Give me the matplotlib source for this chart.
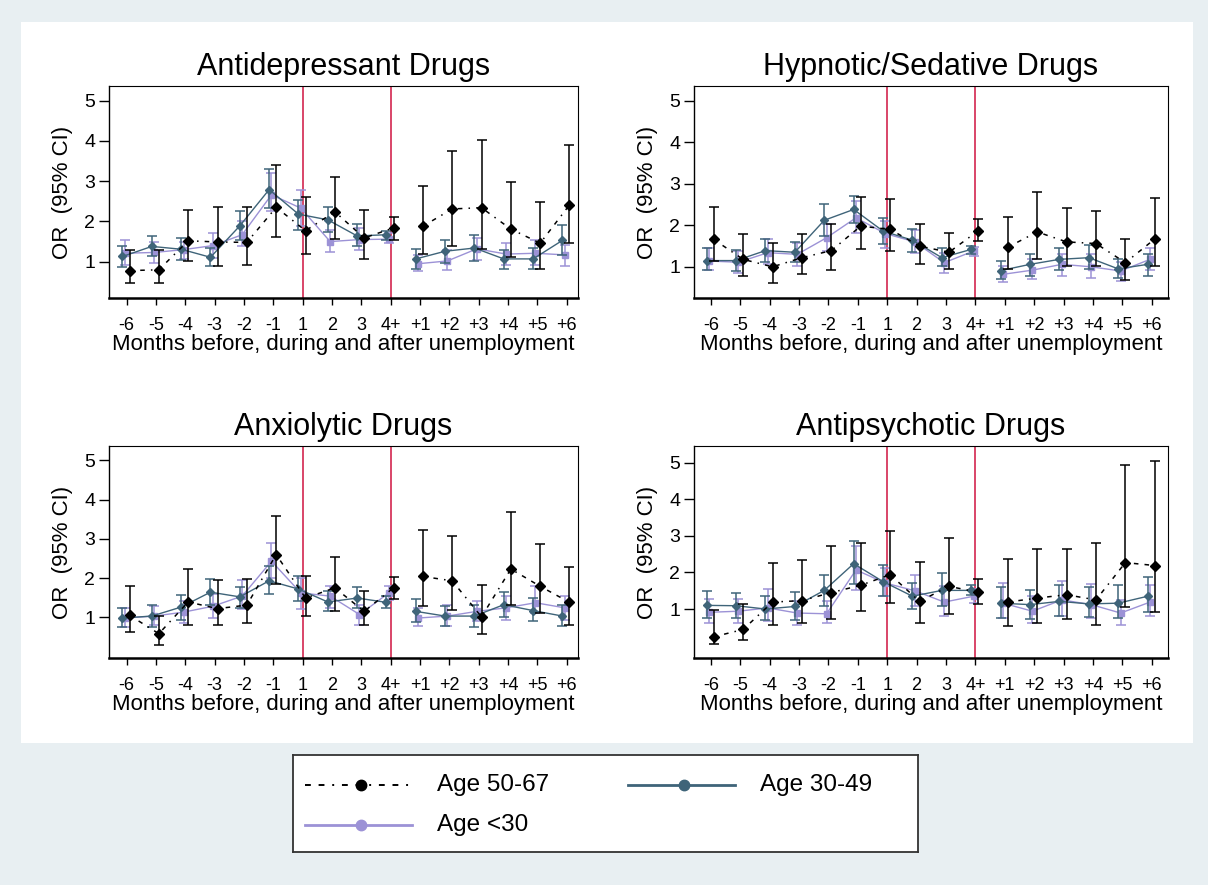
import numpy as np
import matplotlib
matplotlib.use("Agg")
import matplotlib.pyplot as plt
from matplotlib.lines import Line2D
from matplotlib.patches import Rectangle

plt.rcParams['font.family'] = ['Liberation Sans', 'DejaVu Sans']

months = ['-6', '-5', '-4', '-3', '-2', '-1', '1', '2', '3', '4+',
          '+1', '+2', '+3', '+4', '+5', '+6']
titles = ['Antidepressant Drugs', 'Hypnotic/Sedative Drugs',
          'Anxiolytic Drugs', 'Antipsychotic Drugs']

# Antidepressant drugs
ad_old = [0.78, 0.80, 1.52, 1.49, 1.48, 2.35, 1.77, 2.24, 1.59, 1.84, 1.88, 2.31, 2.34, 1.81, 1.46, 2.41]
ad_old_lo = [0.47, 0.47, 1.01, 0.90, 0.93, 1.61, 1.19, 1.57, 1.07, 1.54, 1.19, 1.40, 1.32, 1.12, 0.83, 1.46]
ad_old_hi = [1.28, 1.28, 2.29, 2.36, 2.36, 3.39, 2.60, 3.11, 2.29, 2.11, 2.89, 3.75, 4.03, 2.97, 2.47, 3.90]
ad_mid = [1.13, 1.38, 1.31, 1.11, 1.89, 2.79, 2.18, 2.04, 1.64, 1.67, 1.07, 1.26, 1.34, 1.07, 1.07, 1.53]
ad_mid_lo = [0.88, 1.13, 1.05, 0.90, 1.55, 2.33, 1.79, 1.73, 1.38, 1.53, 0.83, 0.98, 1.01, 0.83, 0.83, 1.17]
ad_mid_hi = [1.40, 1.64, 1.58, 1.34, 2.25, 3.30, 2.54, 2.36, 1.93, 1.75, 1.32, 1.53, 1.67, 1.30, 1.34, 1.90]
ad_young = [1.21, 1.23, 1.30, 1.40, 1.67, 2.66, 2.33, 1.50, 1.55, 1.56, 0.95, 1.02, 1.32, 1.19, 1.21, 1.17]
ad_young_lo = [0.91, 0.97, 1.07, 1.09, 1.38, 2.25, 1.88, 1.23, 1.30, 1.46, 0.76, 0.79, 1.05, 0.93, 0.93, 0.90]
ad_young_hi = [1.53, 1.50, 1.50, 1.71, 2.00, 3.20, 2.79, 1.79, 1.83, 1.71, 1.17, 1.30, 1.59, 1.46, 1.53, 1.42]

# Hypnotic/sedative drugs
hs_old = [1.66, 1.18, 1.00, 1.22, 1.39, 1.98, 1.90, 1.50, 1.35, 1.87, 1.47, 1.84, 1.60, 1.56, 1.10, 1.67]
hs_old_lo = [1.14, 0.79, 0.62, 0.83, 0.92, 1.42, 1.38, 1.06, 0.95, 1.61, 0.95, 1.19, 1.03, 1.03, 0.68, 1.03]
hs_old_hi = [2.44, 1.78, 1.58, 1.78, 2.02, 2.68, 2.62, 2.02, 1.82, 2.14, 2.20, 2.79, 2.42, 2.34, 1.68, 2.66]
hs_mid = [1.15, 1.15, 1.39, 1.35, 2.12, 2.38, 1.86, 1.64, 1.22, 1.42, 0.91, 1.06, 1.18, 1.22, 0.95, 1.06]
hs_mid_lo = [0.92, 0.90, 1.11, 1.11, 1.75, 2.06, 1.54, 1.35, 1.02, 1.30, 0.71, 0.79, 0.92, 0.95, 0.74, 0.79]
hs_mid_hi = [1.46, 1.40, 1.67, 1.60, 2.51, 2.71, 2.18, 1.91, 1.46, 1.50, 1.14, 1.32, 1.46, 1.52, 1.18, 1.32]
hs_young = [1.14, 1.11, 1.34, 1.30, 1.70, 2.18, 1.80, 1.60, 1.10, 1.38, 0.82, 0.92, 1.06, 1.00, 0.90, 1.18]
hs_young_lo = [0.92, 0.86, 1.06, 1.02, 1.38, 1.82, 1.46, 1.34, 0.84, 1.27, 0.63, 0.71, 0.79, 0.74, 0.66, 0.92]
hs_young_hi = [1.46, 1.38, 1.66, 1.58, 2.04, 2.58, 2.10, 1.88, 1.34, 1.48, 1.02, 1.18, 1.32, 1.30, 1.11, 1.46]

# Anxiolytic drugs
ax_old = [1.05, 0.58, 1.39, 1.22, 1.31, 2.60, 1.49, 1.75, 1.15, 1.75, 2.04, 1.93, 1.01, 2.23, 1.79, 1.38]
ax_old_lo = [0.63, 0.30, 0.81, 0.79, 0.86, 1.85, 1.03, 1.17, 0.79, 1.47, 1.28, 1.18, 0.56, 1.32, 1.11, 0.81]
ax_old_hi = [1.81, 1.03, 2.24, 1.94, 1.98, 3.59, 2.06, 2.54, 1.68, 2.02, 3.23, 3.08, 1.83, 3.68, 2.87, 2.28]
ax_mid = [0.98, 1.03, 1.26, 1.64, 1.52, 1.93, 1.72, 1.39, 1.49, 1.38, 1.15, 1.03, 1.03, 1.32, 1.17, 1.03]
ax_mid_lo = [0.75, 0.75, 0.94, 1.32, 1.24, 1.60, 1.41, 1.15, 1.24, 1.24, 0.87, 0.77, 0.75, 1.01, 0.90, 0.77]
ax_mid_hi = [1.24, 1.32, 1.58, 1.98, 1.76, 2.32, 2.04, 1.66, 1.76, 1.54, 1.47, 1.28, 1.32, 1.65, 1.49, 1.32]
ax_young = [0.98, 1.03, 1.13, 1.28, 1.54, 2.43, 1.62, 1.54, 1.07, 1.62, 0.98, 1.03, 1.15, 1.24, 1.37, 1.24]
ax_young_lo = [0.75, 0.79, 0.86, 0.98, 1.20, 2.00, 1.20, 1.24, 0.81, 1.45, 0.77, 0.77, 0.90, 0.94, 1.11, 0.94]
ax_young_hi = [1.24, 1.28, 1.41, 1.59, 1.96, 2.89, 2.00, 1.79, 1.32, 1.79, 1.24, 1.30, 1.41, 1.54, 1.79, 1.55]

# Antipsychotic drugs
ap_old = [0.24, 0.44, 1.19, 1.23, 1.45, 1.65, 1.94, 1.21, 1.62, 1.46, 1.19, 1.30, 1.39, 1.25, 2.27, 2.19]
ap_old_lo = [0.03, 0.15, 0.57, 0.62, 0.73, 0.94, 1.16, 0.62, 0.86, 1.14, 0.53, 0.62, 0.73, 0.57, 1.05, 0.92]
ap_old_hi = [0.98, 1.15, 2.25, 2.35, 2.73, 2.80, 3.14, 2.28, 2.93, 1.82, 2.37, 2.65, 2.65, 2.80, 4.94, 5.05]
ap_mid = [1.10, 1.09, 1.00, 1.07, 1.51, 2.24, 1.75, 1.35, 1.51, 1.51, 1.16, 1.12, 1.21, 1.14, 1.16, 1.35]
ap_mid_lo = [0.75, 0.75, 0.71, 0.71, 1.07, 1.69, 1.35, 1.00, 1.07, 1.37, 0.75, 0.73, 0.80, 0.77, 0.75, 0.91]
ap_mid_hi = [1.50, 1.45, 1.35, 1.46, 1.94, 2.85, 2.21, 1.71, 1.98, 1.66, 1.59, 1.51, 1.66, 1.59, 1.65, 1.87]
ap_young = [0.91, 0.94, 1.03, 0.89, 0.87, 2.07, 1.71, 1.50, 1.19, 1.35, 1.16, 0.94, 1.25, 1.12, 0.89, 1.19]
ap_young_lo = [0.62, 0.62, 0.66, 0.57, 0.62, 1.53, 1.35, 1.09, 0.82, 1.16, 0.75, 0.62, 0.82, 0.75, 0.57, 0.80]
ap_young_hi = [1.27, 1.27, 1.55, 1.23, 1.21, 2.73, 2.12, 1.94, 1.62, 1.55, 1.71, 1.35, 1.78, 1.69, 1.25, 1.66]

panels = [
    (ad_old, ad_old_lo, ad_old_hi, ad_mid, ad_mid_lo, ad_mid_hi, ad_young, ad_young_lo, ad_young_hi),
    (hs_old, hs_old_lo, hs_old_hi, hs_mid, hs_mid_lo, hs_mid_hi, hs_young, hs_young_lo, hs_young_hi),
    (ax_old, ax_old_lo, ax_old_hi, ax_mid, ax_mid_lo, ax_mid_hi, ax_young, ax_young_lo, ax_young_hi),
    (ap_old, ap_old_lo, ap_old_hi, ap_mid, ap_mid_lo, ap_mid_hi, ap_young, ap_young_lo, ap_young_hi),
]
ylims = [(0.1, 5.36), (0.25, 5.35), (-0.04, 5.37), (-0.34, 5.46)]

BLACK = '#000000'
TEAL = '#3f6479'
PURPLE = '#9c92d6'
RED = '#d3264f'
BG = '#e8eff2'
dashdot = (0, (3, 4, 3, 4, 1, 4))

W, H = 1208, 885
fig = plt.figure(figsize=(W / 100, H / 100), dpi=100, facecolor=BG)
fig.patches.append(Rectangle((21 / W, 1 - 743 / H), (1193 - 21) / W, (743 - 22) / H,
                             transform=fig.transFigure, facecolor='white',
                             edgecolor='none', zorder=-10))

# axes boxes in pixels: left, top, right, bottom
boxes = [(109, 86, 578, 298), (694, 86, 1168, 298),
         (109, 446, 578, 658), (694, 446, 1168, 658)]
xlims = [(-0.60, 15.39), (-0.57, 15.55), (-0.60, 15.39), (-0.57, 15.55)]

x = np.arange(len(months))
segs = [slice(0, 10), slice(10, 16)]


def draw_series(ax, xs, y, lo, hi, color, marker, ms, ls, lw, z):
    y = np.asarray(y)
    lo = np.asarray(lo)
    hi = np.asarray(hi)
    for s in segs:
        ax.plot(xs[s], y[s], color=color, linestyle=ls, linewidth=lw, zorder=z)
    ax.errorbar(xs, y, yerr=[y - lo, hi - y], fmt=marker, color=color, ms=ms,
                ecolor=color, elinewidth=1.1, capsize=3.6, capthick=1.1,
                zorder=z + 0.5)


for i, (title, data, (l, t, r, b)) in enumerate(zip(titles, panels, boxes)):
    ax = fig.add_axes([l / W, 1 - b / H, (r - l) / W, (b - t) / H], zorder=2)
    (o, olo, ohi, m, mlo, mhi, yg, yglo, yghi) = data
    draw_series(ax, x - 0.06, yg, yglo, yghi, PURPLE, 's', 4.5, '-', 1.0, 2)
    draw_series(ax, x - 0.14, m, mlo, mhi, TEAL, 'D', 4.3, '-', 1.0, 3)
    draw_series(ax, x + 0.10, o, olo, ohi, BLACK, 'D', 4.8, dashdot, 1.1, 4)
    ax.axvline(6, color=RED, linewidth=1.2, zorder=1)
    ax.axvline(9, color=RED, linewidth=1.2, zorder=1)
    ax.set_xlim(*xlims[i])
    ax.set_ylim(*ylims[i])
    ax.set_xticks(x)
    ax.set_xticklabels(months, fontsize=13)
    ax.set_yticks([1, 2, 3, 4, 5])
    ax.set_yticklabels(['1', '2', '3', '4', '5'], fontsize=14)
    ax.tick_params(axis='x', direction='out', length=5, width=1, pad=9)
    ax.tick_params(axis='y', direction='out', length=7, width=1, pad=3)
    ax.set_title(title, fontsize=22, pad=8)
    ax.set_xlabel('Months before, during and after unemployment', fontsize=16, labelpad=0)
    ax.set_ylabel('OR  (95% CI)', fontsize=16, labelpad=8)
    for side in ['top', 'right']:
        ax.spines[side].set_linewidth(0.8)
    ax.spines['left'].set_linewidth(1.0)
    ax.spines['bottom'].set_linewidth(1.8)

# legend box
lx0, ly0, lx1, ly1 = 293, 755, 918, 852
lax = fig.add_axes([lx0 / W, 1 - ly1 / H, (lx1 - lx0) / W, (ly1 - ly0) / H], zorder=2)
lax.set_xlim(lx0, lx1)
lax.set_ylim(ly1, ly0)
lax.set_xticks([])
lax.set_yticks([])
for s in lax.spines.values():
    s.set_linewidth(1.3)
    s.set_color('#333333')

entries = [
    ('Age 50-67', BLACK, dashdot, 1.4, 305, 785),
    ('Age 30-49', TEAL, '-', 2.0, 628, 785),
    ('Age <30', PURPLE, '-', 2.0, 305, 825),
]
for label, color, ls, lw, sx, sy in entries:
    lax.add_line(Line2D([sx, sx + 107], [sy, sy], color=color, linestyle=ls, linewidth=lw))
    lax.add_line(Line2D([sx + 56], [sy], color=color, marker='o', markersize=7.5))
    lax.text(sx + 132, sy, label, fontsize=17.5, va='center', ha='left')

fig.savefig('out.png', dpi=100, facecolor=BG)
